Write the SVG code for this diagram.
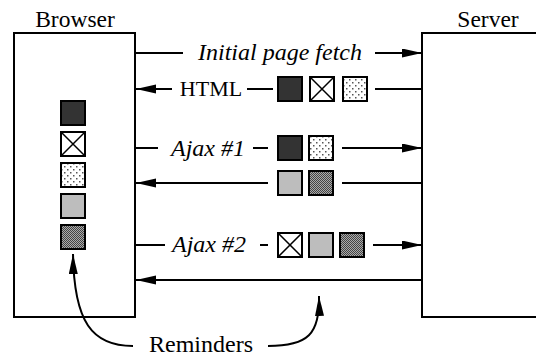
<svg xmlns="http://www.w3.org/2000/svg" width="536" height="356" viewBox="0 0 536 356">
<style>
.box{fill:#fff;stroke:#000;stroke-width:2}
.ln{stroke:#000;stroke-width:2;fill:none}
.arr{stroke:#000;stroke-width:2;fill:none;marker-end:url(#ah)}
.t{font-family:"Liberation Serif","Times New Roman",serif;font-size:22px;fill:#000}
.h{font-size:23.5px}
.i{font-style:italic;font-size:24px}
.r{font-size:24px}
.sq{stroke:#000;stroke-width:2}
.dark{fill:#333}
.gray{fill:#bdbdbd}
.dots{fill:url(#pdots)}
.chk{fill:url(#pchk)}
.x{fill:#fff}
</style>
<defs>
<marker id="ah" markerUnits="userSpaceOnUse" markerWidth="21" markerHeight="10" refX="20" refY="4.5" orient="auto">
<path d="M0,0 L20,4.5 L0,9 z" fill="#000"/>
</marker>
<pattern id="pdots" patternUnits="userSpaceOnUse" width="6" height="6">
<rect width="6" height="6" fill="#fff"/>
<rect x="1" y="1" width="1.5" height="1.5" fill="#555"/>
<rect x="4" y="4" width="1.5" height="1.5" fill="#555"/>
</pattern>
<pattern id="pchk" patternUnits="userSpaceOnUse" width="2" height="2">
<rect width="2" height="2" fill="#aaa"/>
<rect width="1" height="1" fill="#444"/>
<rect x="1" y="1" width="1" height="1" fill="#444"/>
</pattern>
<g id="sqX"><rect class="sq x" width="24" height="24"/><path d="M0,0 L24,24 M24,0 L0,24" stroke="#000" stroke-width="1.5"/></g>
</defs>

<g id="browser">
<rect class="box" x="14" y="33" width="121" height="284"/>
<text class="t h" x="75" y="27" text-anchor="middle">Browser</text>
<rect class="sq dark" x="61" y="101" width="24" height="24"/>
<use href="#sqX" x="61" y="132"/>
<rect class="sq dots" x="61" y="163" width="24" height="24"/>
<rect class="sq gray" x="61" y="194" width="24" height="24"/>
<rect class="sq chk" x="61" y="225" width="24" height="24"/>
</g>

<g id="server">
<rect class="box" x="422" y="33" width="130" height="284"/>
<text class="t h" x="488" y="27" text-anchor="middle">Server</text>
</g>

<g id="connectors">
<line class="ln" x1="135" y1="53" x2="183" y2="53"/>
<line class="arr" x1="375" y1="53" x2="422" y2="53"/>
<line class="arr" x1="172" y1="89" x2="136" y2="89"/>
<line class="ln" x1="247" y1="89" x2="273" y2="89"/>
<line class="ln" x1="375" y1="89" x2="422" y2="89"/>
<line class="ln" x1="135" y1="148" x2="158" y2="148"/>
<line class="ln" x1="253" y1="148" x2="268" y2="148"/>
<line class="arr" x1="342" y1="148" x2="422" y2="148"/>
<line class="arr" x1="268" y1="183" x2="136" y2="183"/>
<line class="ln" x1="342" y1="183" x2="422" y2="183"/>
<line class="ln" x1="135" y1="245" x2="165" y2="245"/>
<line class="ln" x1="260" y1="245" x2="268" y2="245"/>
<line class="arr" x1="373" y1="245" x2="422" y2="245"/>
<line class="arr" x1="422" y1="280" x2="136" y2="280"/>
<path class="arr" d="M133,346 C92,346 74,322 73,254"/>
<path class="arr" d="M268,346 C308,346 320,334 319,296"/>
</g>

<g id="labels">
<text class="t i" x="280" y="60" text-anchor="middle">Initial page fetch</text>
<text class="t" x="211" y="96" text-anchor="middle">HTML</text>
<text class="t i" x="208" y="156" text-anchor="middle">Ajax #1</text>
<text class="t i" x="209" y="252" text-anchor="middle">Ajax #2</text>
<text class="t r" x="201" y="352" text-anchor="middle">Reminders</text>
</g>

<g id="messages">
<rect class="sq dark" x="278" y="77" width="24" height="24"/>
<use href="#sqX" x="310" y="77"/>
<rect class="sq dots" x="343" y="77" width="24" height="24"/>
<rect class="sq dark" x="278" y="136" width="24" height="24"/>
<rect class="sq dots" x="309" y="136" width="24" height="24"/>
<rect class="sq gray" x="278" y="171" width="24" height="24"/>
<rect class="sq chk" x="309" y="171" width="24" height="24"/>
<use href="#sqX" x="278" y="233"/>
<rect class="sq gray" x="309" y="233" width="24" height="24"/>
<rect class="sq chk" x="340" y="233" width="24" height="24"/>
</g>
</svg>
